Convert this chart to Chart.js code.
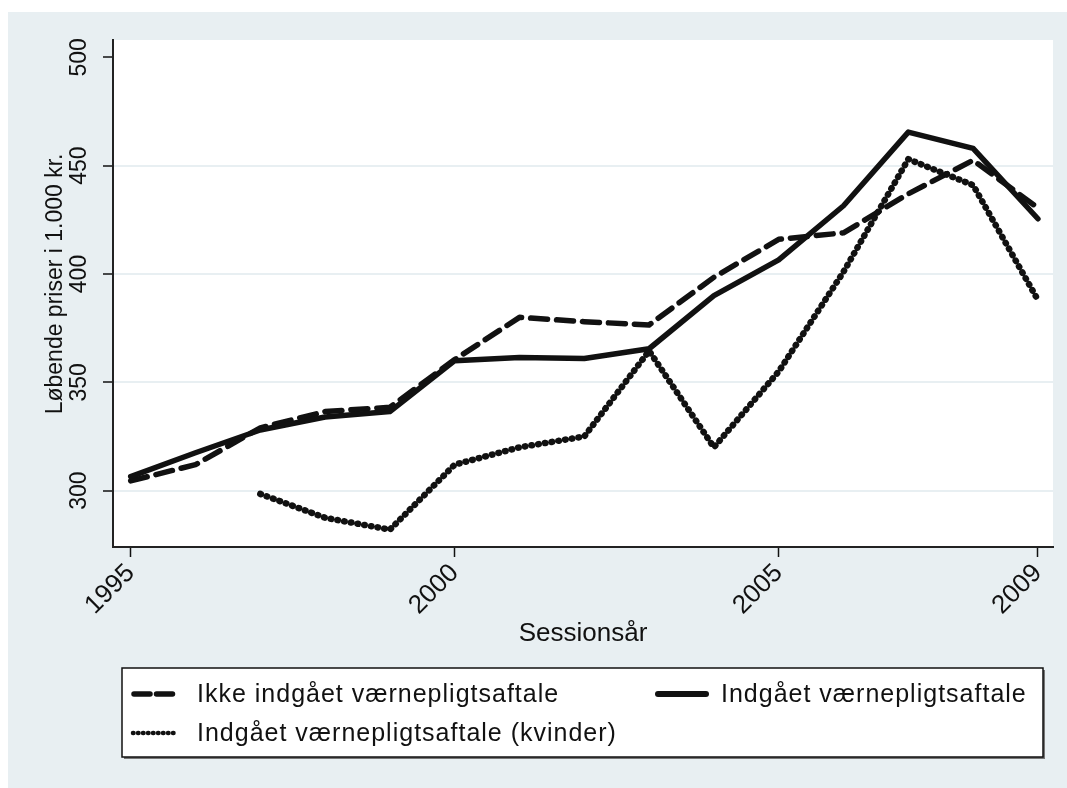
<!DOCTYPE html>
<html lang="da">
<head>
<meta charset="UTF-8">
<title>Løbende priser i 1.000 kr.</title>
<style>
  html, body { margin: 0; padding: 0; background: #fff; }
  #wrap { width: 1067px; height: 788px; }
</style>
</head>
<body>
<div id="wrap"><canvas id="chart"></canvas></div>
<script src="https://cdn.jsdelivr.net/npm/chart.js@4.4.1/dist/chart.umd.min.js"></script>
<script>
  // Sessionsår
  const years = [1995, 1996, 1997, 1998, 1999, 2000, 2001, 2002, 2003, 2004, 2005, 2006, 2007, 2008, 2009];

  // Løbende priser i 1.000 kr.
  const ikkeIndgaaet = [304.5, 312, 329, 336.5, 338.5, 360.5, 380, 378, 376.5, 398.5, 416, 419, 437, 452.5, 430.5];
  const indgaaet = [306.5, 317.5, 328, 334, 336.5, 360, 361.5, 361, 365.5, 390, 406.5, 431.5, 465.5, 458, 425.5];
  const indgaaetKvinder = [null, null, 298.5, 287.5, 282, 312, 320, 325, 364.5, 320, 355, 401, 453, 441, 388];

  const seriesLabels = [
    'Ikke indgået værnepligtsaftale',
    'Indgået værnepligtsaftale',
    'Indgået værnepligtsaftale (kvinder)'
  ];

  const xTicks = [1995, 2000, 2005, 2009];
  const yTicks = [300, 350, 400, 450, 500];

  const BG = '#e8eff2';
  const INK = '#111';
  const FONT = "'Liberation Sans', Arial, Helvetica, sans-serif";

  const points = vals => years.map((y, i) => ({ x: y, y: vals[i] }));

  // stata-like background: outer light blue, white plot region
  const backdrop = {
    id: 'backdrop',
    beforeDraw(chart) {
      const { ctx, width, height, chartArea: a } = chart;
      ctx.save();
      ctx.fillStyle = '#fff';
      ctx.fillRect(0, 0, width, height);
      ctx.fillStyle = BG;
      ctx.fillRect(8, 12, width - 8, height - 12);
      ctx.fillStyle = '#fff';
      ctx.fillRect(a.left, a.top, a.right - a.left, a.bottom - a.top);
      ctx.restore();
    }
  };

  // boxed legend, two columns
  const boxLegend = {
    id: 'boxLegend',
    afterDraw(chart) {
      const { ctx } = chart;
      const ds = chart.data.datasets;
      const bx = 122, by = 668, bw = 921, bh = 89;
      ctx.save();
      ctx.fillStyle = '#777';
      ctx.fillRect(bx + 2, by + 2, bw, bh);
      ctx.fillStyle = '#fff';
      ctx.fillRect(bx, by, bw, bh);
      ctx.strokeStyle = INK;
      ctx.lineWidth = 1.5;
      ctx.strokeRect(bx, by, bw, bh);

      const items = [
        { d: ds[0], x0: 134, x1: 173, y: 694, tx: 197, dash: [16, 6.5], w: 5.5 },
        { d: ds[1], x0: 658, x1: 706, y: 694, tx: 721, dash: [], w: 6 },
        { d: ds[2], x0: 133, x1: 174, y: 733, tx: 197, dash: [0.5, 4.5], w: 4.5 }
      ];
      items.forEach(it => {
        ctx.strokeStyle = INK;
        ctx.lineWidth = it.w;
        ctx.lineCap = 'round';
        ctx.setLineDash(it.dash);
        ctx.beginPath();
        ctx.moveTo(it.x0, it.y);
        ctx.lineTo(it.x1, it.y);
        ctx.stroke();
        ctx.setLineDash([]);
        ctx.fillStyle = INK;
        ctx.font = '25px ' + FONT;
        ctx.letterSpacing = '1px';
        ctx.textBaseline = 'middle';
        ctx.textAlign = 'left';
        ctx.fillText(it.d.label, it.tx, it.y + 1);
      });
      ctx.restore();
    }
  };

  new Chart(document.getElementById('chart'), {
    type: 'line',
    data: {
      datasets: [{
        label: seriesLabels[0],
        data: points(ikkeIndgaaet),
        borderColor: INK,
        borderWidth: 5.5,
        borderDash: [17, 9],
        borderCapStyle: 'round',
        borderJoinStyle: 'round',
        order: 2
      }, {
        label: seriesLabels[1],
        data: points(indgaaet),
        borderColor: INK,
        borderWidth: 5.5,
        borderCapStyle: 'round',
        borderJoinStyle: 'round',
        order: 1
      }, {
        label: seriesLabels[2],
        data: points(indgaaetKvinder),
        borderColor: INK,
        borderWidth: 6.5,
        borderDash: [0.5, 6.3],
        borderCapStyle: 'round',
        borderJoinStyle: 'round',
        order: 0
      }]
    },
    options: {
      responsive: true,
      maintainAspectRatio: false,
      animation: false,
      layout: { padding: { left: 8, top: 40, right: 14, bottom: 138 } },
      elements: { point: { radius: 0, hoverRadius: 0 }, line: { tension: 0 } },
      plugins: {
        legend: { display: false },
        tooltip: { enabled: false }
      },
      scales: {
        x: {
          type: 'linear',
          min: 1994.727,
          max: 2009.233,
          afterBuildTicks: s => { s.ticks = xTicks.map(v => ({ value: v })); },
          afterFit: s => { s.height = 103; },
          ticks: {
            autoSkip: false,
            minRotation: 45,
            maxRotation: 45,
            padding: 1,
            color: INK,
            font: { family: FONT, size: 26 },
            callback: v => String(v)
          },
          grid: { drawOnChartArea: false, tickLength: 10, tickColor: INK, tickWidth: 1.5 },
          border: { color: '#222', width: 2 },
          title: {
            display: true,
            text: 'Sessionsår',
            color: INK,
            font: { family: FONT, size: 26 },
            padding: { top: 0, bottom: 1 }
          }
        },
        y: {
          min: 274,
          max: 508,
          afterBuildTicks: s => { s.ticks = yTicks.map(v => ({ value: v })); },
          afterFit: s => { s.width = 105; },
          ticks: {
            minRotation: 90,
            maxRotation: 90,
            crossAlign: 'center',
            padding: 4,
            color: INK,
            font: { family: FONT, size: 23 },
            callback: v => String(v)
          },
          grid: {
            color: c => (c.tick && c.tick.value === 500) ? 'rgba(0,0,0,0)' : BG,
            lineWidth: 2,
            tickLength: 10,
            tickColor: INK,
            tickWidth: 1.5
          },
          border: { color: '#222', width: 2 },
          title: {
            display: true,
            text: '\u00a0\u00a0\u00a0Løbende priser i 1.000 kr.',
            color: INK,
            font: { family: FONT, size: 23 },
            padding: { top: 34, bottom: 0 }
          }
        }
      }
    },
    plugins: [backdrop, boxLegend]
  });
</script>
</body>
</html>
